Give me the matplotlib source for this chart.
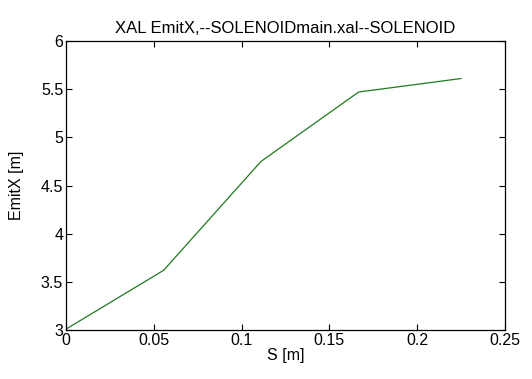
import matplotlib

matplotlib.use("Agg")
import matplotlib.pyplot as plt

# beamline positions [m] and horizontal emittance along the solenoid
s_pos = [0.0, 0.0556, 0.1111, 0.1667, 0.2250]
emit_x = [3.01, 3.62, 4.75, 5.47, 5.61]

plt.rcParams["font.family"] = ["Liberation Sans", "DejaVu Sans"]
plt.rcParams["font.size"] = 11.5

fig = plt.figure(figsize=(5.32, 3.79), dpi=100)
ax = fig.add_axes([0.124, 0.129, 0.825, 0.763])

ax.plot(s_pos, emit_x, color="#1f7a1f", linewidth=0.9)

ax.set_xlim(0, 0.25)
ax.set_ylim(3, 6)
ax.set_xticks([0, 0.05, 0.1, 0.15, 0.2, 0.25])
ax.set_xticklabels(["0", "0.05", "0.1", "0.15", "0.2", "0.25"])
ax.set_yticks([3, 3.5, 4, 4.5, 5, 5.5, 6])
ax.set_yticklabels(["3", "3.5", "4", "4.5", "5", "5.5", "6"])
ax.tick_params(direction="in", top=True, right=True, length=4, width=0.8, pad=2)
for sp in ax.spines.values():
    sp.set_linewidth(0.9)

ax.set_xlabel("S [m]", labelpad=0)
ax.set_ylabel("EmitX [m]", labelpad=12)
ax.set_title("XAL EmitX,--SOLENOIDmain.xal--SOLENOID", fontsize=12, pad=6)

fig.savefig("out.png", dpi=100)
plt.close(fig)
